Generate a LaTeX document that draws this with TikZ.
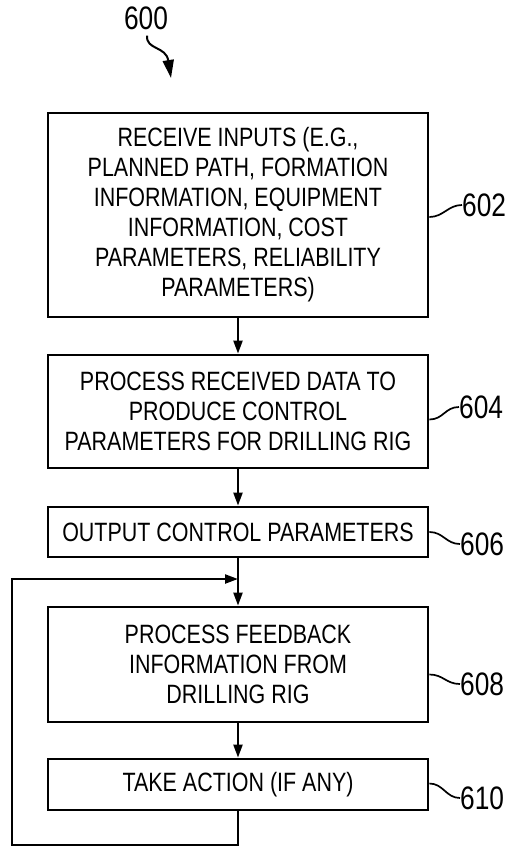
\documentclass[tikz,border=0pt]{standalone}
\usepackage{fontspec}
\usetikzlibrary{arrows.meta}
\newfontfamily\drawfont{Liberation Sans}[FakeStretch=0.81]
\newcommand\boxfont{\drawfont\fontsize{26.5pt}{30pt}\selectfont}
\newcommand\lblfont{\drawfont\fontsize{32.5pt}{34pt}\selectfont}
\begin{document}
\begin{tikzpicture}[x=1pt,y=-1pt,
  stepbox/.style={draw, line width=2.8pt, minimum width=380pt, inner sep=0pt,
    align=center, font=\boxfont},
  flow/.style={line width=2.2pt, -{Triangle[length=13pt,width=9pt]}},
  lbl/.style={font=\lblfont, inner sep=0pt, anchor=west},
  lead/.style={line width=1.7pt}]
\useasboundingbox (0,0) rectangle (511,847);

% process steps
\node[stepbox, minimum height=204pt] (b602) at (238,215)
  {RECEIVE INPUTS (E.G.,\\PLANNED PATH, FORMATION\\INFORMATION, EQUIPMENT\\INFORMATION, COST\\PARAMETERS, RELIABILITY\\PARAMETERS)};
\node[stepbox, minimum height=113pt] (b604) at (238,411.5)
  {PROCESS RECEIVED DATA TO\\PRODUCE CONTROL\\PARAMETERS FOR DRILLING RIG};
\node[stepbox, minimum height=50pt] (b606) at (238,532)
  {OUTPUT CONTROL PARAMETERS};
\node[stepbox, minimum height=115pt] (b608) at (238,664.5)
  {PROCESS FEEDBACK\\INFORMATION FROM\\DRILLING RIG};
\node[stepbox, minimum height=51pt] (b610) at (238,784.5)
  {TAKE ACTION (IF ANY)};

% forward flow
\draw[flow] (b602.south) -- (b604.north);
\draw[flow] (b604.south) -- (b606.north);
\draw[flow] (b606.south) -- (b608.north);
\draw[flow] (b608.south) -- (b610.north);

% feedback loop
\coordinate (join) at (238,579);
\coordinate (loopbl) at (12,845);
\draw[flow] (b610.south) -- (b610.south |- loopbl) -- (loopbl) -- (loopbl |- join) -- (join);

% figure number
\node[lbl, anchor=center] (t600) at (146,18) {600};
\draw[line width=2pt, -{Triangle[length=18pt,width=11pt]}]
  ([xshift=1pt,yshift=-6pt]t600.south) .. controls (146,50) and (166,46) .. (171,78);

% reference numerals
\node[lbl] (l602) at (462,205) {602};
\node[lbl] (l604) at (459,407) {604};
\node[lbl] (l606) at (460,544) {606};
\node[lbl] (l608) at (460,684) {608};
\node[lbl] (l610) at (460,798) {610};
\draw[lead] ([yshift=-2pt]b602.east) .. controls +(14,0) and +(-14,0) .. (l602.west);
\draw[lead] ([yshift=-8pt]b604.east) .. controls +(14,0) and +(-14,0) .. (l604.west);
\draw[lead] (b606.east) .. controls +(14,0) and +(-14,0) .. (l606.west);
\draw[lead] ([yshift=-10pt]b608.east) .. controls +(14,0) and +(-14,0) .. (l608.west);
\draw[lead] ([yshift=1pt]b610.east) .. controls +(14,0) and +(-14,0) .. (l610.west);
\end{tikzpicture}
\end{document}
